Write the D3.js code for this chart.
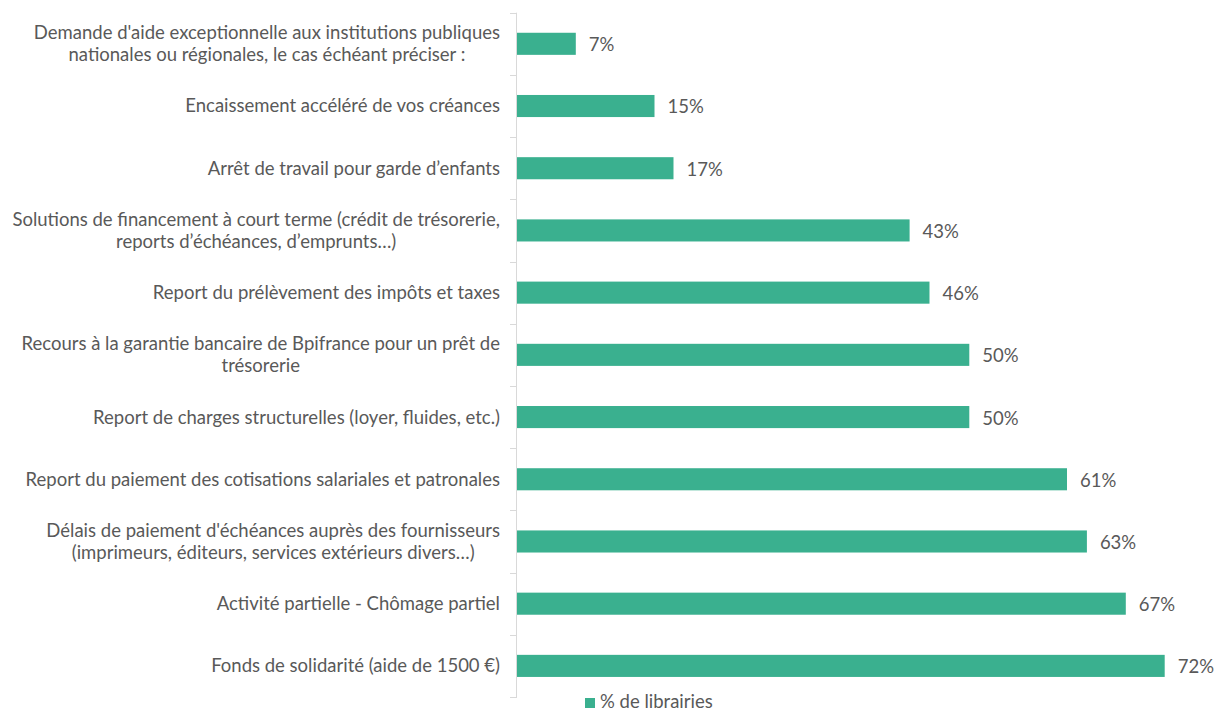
<!DOCTYPE html>
<html>
  <head>
    <meta charset="utf-8">
    <title>Mesures sollicitées</title>
    <style>
      body { margin: 0; background: #fff; }
      svg text { font-family: Lato, "Open Sans", sans-serif; fill: #595959; }
    </style>
  </head>
  <body>
    <svg class="chart"></svg>
    <script src="https://cdnjs.cloudflare.com/ajax/libs/d3/7.8.5/d3.min.js"></script>
    <script>

var categories = [
    "Demande d'aide exceptionnelle aux institutions publiques\nnationales ou régionales, le cas échéant préciser :",
    "Encaissement accéléré de vos créances",
    "Arrêt de travail pour garde d’enfants",
    "Solutions de financement à court terme (crédit de trésorerie,\nreports d’échéances, d’emprunts…)",
    "Report du prélèvement des impôts et taxes",
    "Recours à la garantie bancaire de Bpifrance pour un prêt de\ntrésorerie",
    "Report de charges structurelles (loyer, fluides, etc.)",
    "Report du paiement des cotisations salariales et patronales",
    "Délais de paiement d'échéances auprès des fournisseurs\n(imprimeurs, éditeurs, services extérieurs divers…)",
    "Activité partielle - Chômage partiel",
    "Fonds de solidarité (aide de 1500 €)"
]
var values = [6.5, 15.2, 17.3, 43.4, 45.6, 50.0, 50.0, 60.8, 63.0, 67.3, 71.6]
var seriesName = "% de librairies"

var width = 1216
var height = 711
var axisX = 517
var labelRight = 500
var fontSize = "18.5px"

var svg = d3.select(".chart")
    .attr("width", width)
    .attr("height", height)

var x = d3.scaleLinear()
    .domain([0, 75])
    .range([axisX, axisX + 75 * 9.046])

var y = d3.scaleBand()
    .domain(categories)
    .range([12.7, 697])
    .paddingInner(0.645)
    .paddingOuter(0.3225)

var step = y.step()

// axis line + ticks between categories
svg.append("line")
    .attr("x1", axisX - 0.5).attr("x2", axisX - 0.5)
    .attr("y1", y.range()[0]).attr("y2", y.range()[1])
    .attr("stroke", "#d9d9d9")
    .attr("stroke-width", 1)

svg.append("g").selectAll("line")
    .data(d3.range(categories.length + 1))
    .enter().append("line")
    .attr("x1", axisX - 7).attr("x2", axisX)
    .attr("y1", function(i) { return Math.round(y.range()[0] + i * step) + 0.5 })
    .attr("y2", function(i) { return Math.round(y.range()[0] + i * step) + 0.5 })
    .attr("stroke", "#d9d9d9")

// bars
svg.append("g").selectAll("rect")
    .data(values)
    .enter().append("rect")
    .attr("x", x(0))
    .attr("y", function(d, i) { return y(categories[i]) })
    .attr("width", function(d) { return x(d) - x(0) })
    .attr("height", y.bandwidth())
    .attr("fill", "#3AB08F")

// value labels
svg.append("g").selectAll("text")
    .data(values)
    .enter().append("text")
    .attr("x", function(d) { return x(d) + 13 })
    .attr("y", function(d, i) { return y(categories[i]) + y.bandwidth() / 2 + 1 })
    .attr("dy", "0.35em")
    .style("font-size", fontSize)
    .text(function(d) { return Math.round(d) + "%" })

// category labels, multi-line ones centered on their widest line
var catLabel = svg.append("g").selectAll("text")
    .data(categories)
    .enter().append("text")
    .style("font-size", fontSize)
    .attr("text-anchor", "middle")

catLabel.each(function(d) {
    var t = d3.select(this)
    var lines = d.split("\n")
    var cy = y(d) + y.bandwidth() / 2
    var lineH = 22
    lines.forEach(function(l, j) {
        t.append("tspan")
            .attr("y", cy + (j - (lines.length - 1) / 2) * lineH)
            .attr("dy", "0.35em")
            .text(l)
    })
    var maxW = 0
    t.selectAll("tspan").each(function() {
        maxW = Math.max(maxW, this.getComputedTextLength())
    })
    t.selectAll("tspan").attr("x", labelRight - maxW / 2)
})

// legend
var legend = svg.append("g")
legend.append("rect")
    .attr("x", 585).attr("y", 698)
    .attr("width", 10).attr("height", 10)
    .attr("fill", "#3AB08F")
legend.append("text")
    .attr("x", 600).attr("y", 702)
    .attr("dy", "0.35em")
    .style("font-size", fontSize)
    .text(seriesName)

    </script>
  </body>
</html>
